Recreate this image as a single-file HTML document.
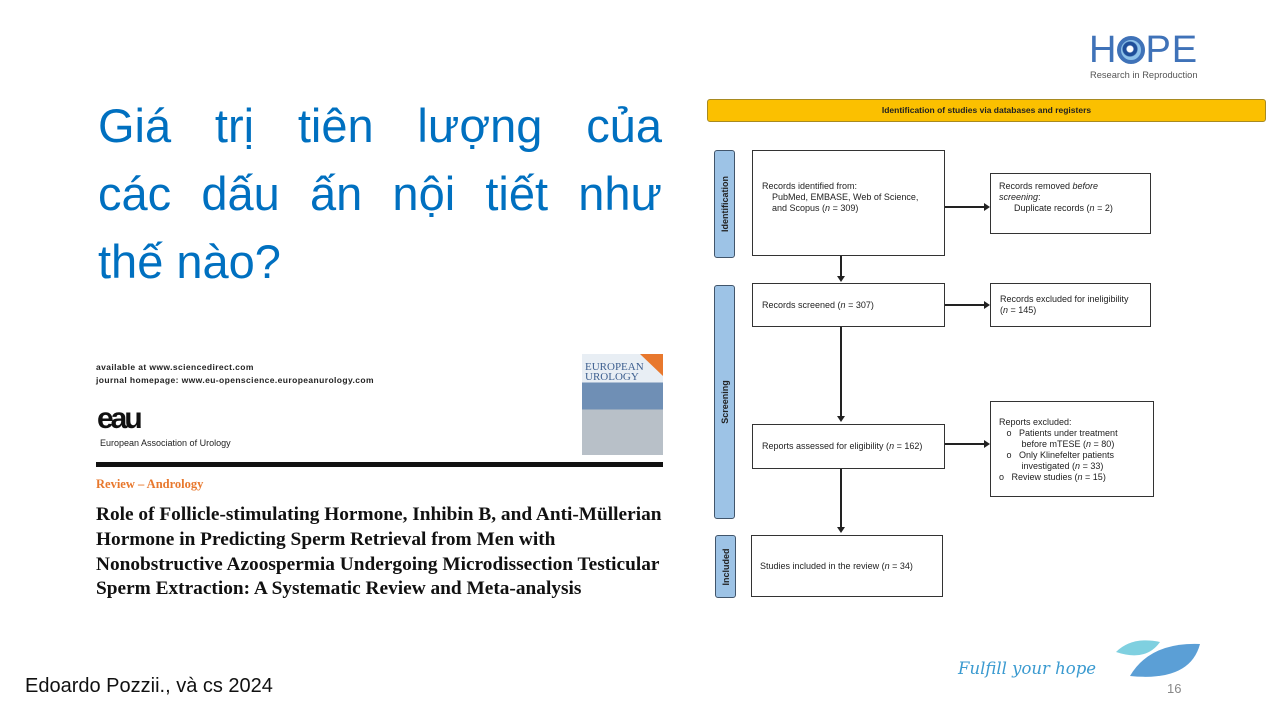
<!DOCTYPE html>
<html><head><meta charset="utf-8"><style>
body{margin:0;width:1280px;height:720px;background:#fff;position:relative;overflow:hidden;font-family:"Liberation Sans",sans-serif}
.a{position:absolute}
.t{color:#0070C0;font-size:47px;left:98px;width:564px;text-align:justify;text-align-last:justify;line-height:68px;white-space:nowrap}
.box{position:absolute;border:1.5px solid #333;background:#fff;font-size:9px;color:#222;box-sizing:border-box}
.stg{position:absolute;background:#9dc3e6;border:1.5px solid #41556b;border-radius:3px;box-sizing:border-box}
.stg span{position:absolute;left:50%;top:50%;transform:translate(-50%,-50%) rotate(-90deg);font-size:9px;font-weight:bold;color:#222;white-space:nowrap}
.hl{position:absolute;height:1.5px;background:#222}
.vl{position:absolute;width:1.5px;background:#222}
.ar{position:absolute;width:0;height:0}
.ser{font-family:"Liberation Serif",serif;font-weight:bold}
</style></head><body>
<div class="a t" style="top:92px">Giá trị tiên lượng của</div>
<div class="a t" style="top:160px">các dấu ấn nội tiết như</div>
<div class="a" style="left:98px;top:228px;color:#0070C0;font-size:47px;line-height:68px">thế nào?</div>

<div class="a" style="left:1089px;top:30px;color:#3f72b8;font-size:38px;letter-spacing:1px;line-height:40px">H<span style="display:inline-block;width:28px;height:28px;border-radius:50%;border:4px solid #3f72b8;box-sizing:border-box;vertical-align:-2px;background:radial-gradient(circle at 45% 45%,#fff 0 3px,#1f4f9a 4px 7px,#8fc3ea 8px)"></span>PE</div>
<div class="a" style="left:1090px;top:70px;font-size:9.3px;color:#555">Research in Reproduction</div>

<!-- left article -->
<div class="a" style="left:96px;top:361px;font-size:8.5px;font-weight:bold;color:#222;line-height:13px;letter-spacing:.4px">available at www.sciencedirect.com<br>journal homepage: www.eu-openscience.europeanurology.com</div>
<div class="a" style="left:97px;top:404px;font-size:30px;font-weight:bold;letter-spacing:-3px;color:#111;line-height:30px">eau</div>
<div class="a" style="left:100px;top:438px;font-size:9px;color:#222">European Association of Urology</div>
<div class="a" style="left:582px;top:354px;width:81px;height:101px;background:linear-gradient(#e8eef4 0 28%,#6f8fb5 28% 55%,#b8c0c8 55% 100%)"></div>
<div class="a" style="left:585px;top:362px;font-family:'Liberation Serif',serif;font-size:11px;color:#3d5f8f;line-height:10px">EUROPEAN<br>UROLOGY</div>
<div class="a" style="left:640px;top:354px;width:0;height:0;border-top:22px solid #e8782d;border-left:23px solid transparent"></div>
<div class="a" style="left:96px;top:462px;width:567px;height:5px;background:#111"></div>
<div class="a ser" style="left:96px;top:477px;font-size:12.5px;color:#e8782d">Review – Andrology</div>
<div class="a ser" style="left:96px;top:503px;font-size:18.5px;color:#111;line-height:24.8px;white-space:nowrap;transform:scaleX(1.045);transform-origin:0 0">Role of Follicle-stimulating Hormone, Inhibin B, and Anti-Müllerian<br>Hormone in Predicting Sperm Retrieval from Men with<br>Nonobstructive Azoospermia Undergoing Microdissection Testicular<br>Sperm Extraction: A Systematic Review and Meta-analysis</div>

<!-- diagram -->
<div class="a" style="left:707px;top:99px;width:559px;height:23px;background:#fbc000;border:1px solid #a88a20;border-radius:3px;box-sizing:border-box;font-size:8.5px;font-weight:bold;text-align:center;line-height:21px;color:#222">Identification of studies via databases and registers</div>
<div class="stg" style="left:714px;top:150px;width:21px;height:108px"><span>Identification</span></div>
<div class="stg" style="left:714px;top:285px;width:21px;height:234px"><span>Screening</span></div>
<div class="stg" style="left:715px;top:535px;width:21px;height:63px"><span>Included</span></div>

<div class="box" style="left:752px;top:150px;width:193px;height:106px;padding:30px 0 0 9px;line-height:11px">Records identified from:<br>&nbsp;&nbsp;&nbsp;&nbsp;PubMed, EMBASE, Web of Science,<br>&nbsp;&nbsp;&nbsp;&nbsp;and Scopus (<i>n</i> = 309)</div>
<div class="box" style="left:990px;top:173px;width:161px;height:61px;padding:7px 0 0 8px;line-height:11px">Records removed <i>before</i><br><i>screening</i>:<br>&nbsp;&nbsp;&nbsp;&nbsp;&nbsp;&nbsp;Duplicate records (<i>n</i> = 2)</div>
<div class="box" style="left:752px;top:283px;width:193px;height:44px;padding:16px 0 0 9px">Records screened (<i>n</i> = 307)</div>
<div class="box" style="left:990px;top:283px;width:161px;height:44px;padding:10px 0 0 9px;line-height:11px">Records excluded for ineligibility<br>(<i>n</i> = 145)</div>
<div class="box" style="left:752px;top:424px;width:193px;height:45px;padding:16px 0 0 9px">Reports assessed for eligibility (<i>n</i> = 162)</div>
<div class="box" style="left:990px;top:401px;width:164px;height:96px;padding:15px 0 0 8px;line-height:11px">Reports excluded:<br>&nbsp;&nbsp;&nbsp;o&nbsp;&nbsp;&nbsp;Patients under treatment<br>&nbsp;&nbsp;&nbsp;&nbsp;&nbsp;&nbsp;&nbsp;&nbsp;&nbsp;before mTESE (<i>n</i> = 80)<br>&nbsp;&nbsp;&nbsp;o&nbsp;&nbsp;&nbsp;Only Klinefelter patients<br>&nbsp;&nbsp;&nbsp;&nbsp;&nbsp;&nbsp;&nbsp;&nbsp;&nbsp;investigated (<i>n</i> = 33)<br>o&nbsp;&nbsp;&nbsp;Review studies (<i>n</i> = 15)</div>
<div class="box" style="left:751px;top:535px;width:192px;height:62px;padding:25px 0 0 8px">Studies included in the review (<i>n</i> = 34)</div>

<div class="vl" style="left:840px;top:256px;height:22px"></div><div class="ar" style="left:837px;top:276px;border-top:6px solid #222;border-left:4px solid transparent;border-right:4px solid transparent"></div>
<div class="vl" style="left:840px;top:327px;height:90px"></div><div class="ar" style="left:837px;top:416px;border-top:6px solid #222;border-left:4px solid transparent;border-right:4px solid transparent"></div>
<div class="vl" style="left:840px;top:469px;height:59px"></div><div class="ar" style="left:837px;top:527px;border-top:6px solid #222;border-left:4px solid transparent;border-right:4px solid transparent"></div>
<div class="hl" style="left:945px;top:206px;width:40px"></div><div class="ar" style="left:984px;top:203px;border-left:6px solid #222;border-top:4px solid transparent;border-bottom:4px solid transparent"></div>
<div class="hl" style="left:945px;top:304px;width:40px"></div><div class="ar" style="left:984px;top:301px;border-left:6px solid #222;border-top:4px solid transparent;border-bottom:4px solid transparent"></div>
<div class="hl" style="left:945px;top:443px;width:40px"></div><div class="ar" style="left:984px;top:440px;border-left:6px solid #222;border-top:4px solid transparent;border-bottom:4px solid transparent"></div>

<!-- footer -->
<div class="a" style="left:25px;top:675px;font-size:20px;color:#111">Edoardo Pozzii., và cs 2024</div>
<div class="a" style="left:958px;top:659px;font-size:16.5px;font-style:italic;color:#3a9ad0;font-family:'DejaVu Serif',serif">Fulfill your hope</div>
<svg class="a" style="left:1110px;top:636px" width="95" height="50"><path d="M6 16 Q22 0 50 6 Q36 26 6 16Z" fill="#7fd0e0"/><path d="M20 40 Q40 6 90 8 Q80 46 20 40Z" fill="#5b9fd6"/></svg>
<div class="a" style="left:1167px;top:681px;font-size:13px;color:#888">16</div>
</body></html>
